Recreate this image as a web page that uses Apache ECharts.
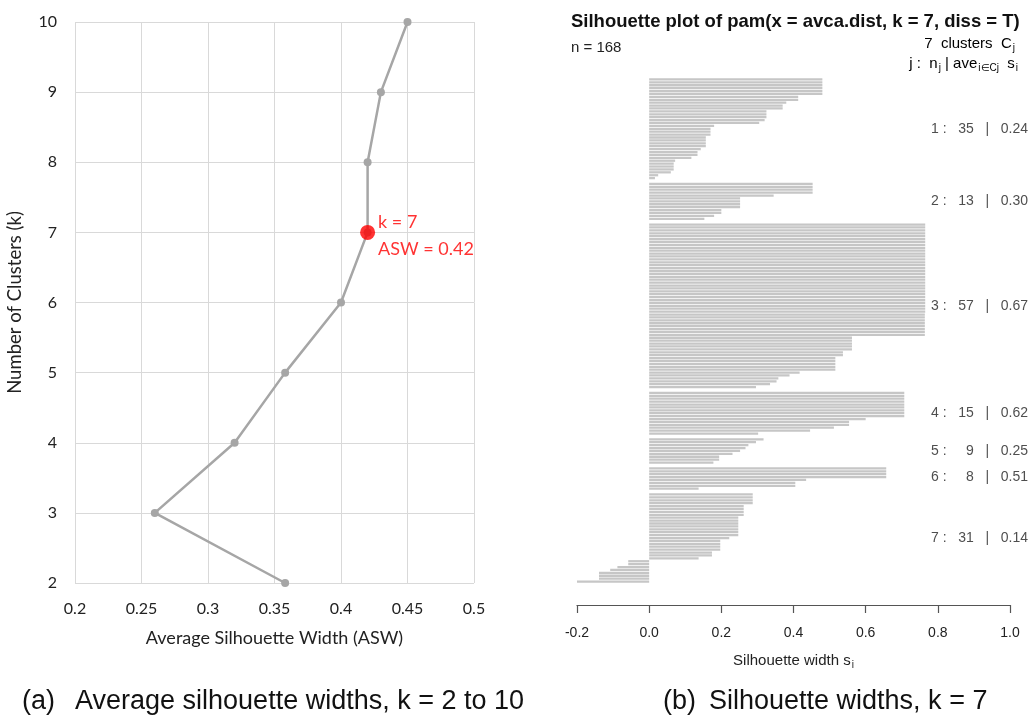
<!DOCTYPE html>
<html>
<head>
<meta charset="utf-8">
<script src="https://cdn.jsdelivr.net/npm/echarts@6/dist/echarts.min.js"></script>
<style>
  html, body { margin: 0; padding: 0; background: #fff; }
  #chart { width: 1030px; height: 723px; }
</style>
</head>
<body>
<div id="chart"></div>
<script>
// (a) ASW for k = 2..10
const kValues = [2, 3, 4, 5, 6, 7, 8, 9, 10]
const aswValues = [0.358, 0.26, 0.32, 0.358, 0.40, 0.42, 0.42, 0.43, 0.45]
const bestK = 7

// (b) silhouette widths per cluster, sorted as in the plot
const sil1 = [0.48, 0.48, 0.48, 0.48, 0.48, 0.48, 0.413, 0.413, 0.38, 0.37, 0.37, 0.325, 0.325, 0.325, 0.32, 0.305,
  0.18, 0.17, 0.17, 0.17, 0.157, 0.157, 0.157, 0.157, 0.143, 0.134, 0.134, 0.117, 0.072, 0.068, 0.068, 0.068, 0.06, 0.025, 0.016]
const sil2 = [0.453, 0.453, 0.453, 0.453, 0.345, 0.252, 0.252, 0.252, 0.252, 0.20, 0.20, 0.18, 0.153]
const sil3 = [0.765, 0.765, 0.765, 0.765, 0.765, 0.765, 0.765, 0.765, 0.765, 0.765,
  0.765, 0.765, 0.765, 0.765, 0.765, 0.765, 0.765, 0.765, 0.765, 0.765,
  0.765, 0.765, 0.765, 0.765, 0.765, 0.765, 0.765, 0.765, 0.765, 0.765,
  0.765, 0.764, 0.764, 0.764, 0.764, 0.764, 0.764, 0.764, 0.764,
  0.562, 0.562, 0.562, 0.562, 0.562, 0.537, 0.537, 0.516, 0.516, 0.516, 0.516, 0.516,
  0.417, 0.389, 0.358, 0.353, 0.335, 0.296]
const sil4 = [0.707, 0.707, 0.707, 0.707, 0.707, 0.707, 0.707, 0.707, 0.707, 0.60, 0.554, 0.554, 0.512, 0.446, 0.302]
const sil5 = [0.317, 0.296, 0.275, 0.267, 0.252, 0.231, 0.194, 0.194, 0.178]
const sil6 = [0.657, 0.657, 0.657, 0.657, 0.435, 0.405, 0.405, 0.137]
const sil7 = [0.287, 0.287, 0.287, 0.287, 0.262, 0.262, 0.262, 0.262, 0.247, 0.247, 0.247, 0.247, 0.247, 0.247, 0.247,
  0.222, 0.197, 0.197, 0.197, 0.197, 0.174, 0.174, 0.137,
  -0.058, -0.058, -0.088, -0.108, -0.139, -0.139, -0.139, -0.216]
const clusterAvg = ['0.24', '0.30', '0.67', '0.62', '0.25', '0.51', '0.14']
const silTicks = ['-0.2', '0.0', '0.2', '0.4', '0.6', '0.8', '1.0']

const clusters = [sil1, sil2, sil3, sil4, sil5, sil6, sil7]

// bars with one empty slot between clusters, plus the label positions
let barData = []
let clusterLabels = []
clusters.forEach((arr, j) => {
  let start = barData.length
  arr.forEach(v => barData.push(v))
  let mid = Math.floor((start + barData.length - 1) / 2)
  let n = arr.length < 10 ? '  ' + arr.length : '' + arr.length
  clusterLabels.push({ value: [1.0, mid], text: (j + 1) + ' :   ' + n + '   |   ' + clusterAvg[j] })
  if (j < clusters.length - 1) barData.push('-')
})
let slots = barData.map((v, i) => i)

const leftFont = 'Lato'
const rightFont = 'Liberation Sans'
const subRich = {
  t: { fontFamily: rightFont, fontSize: 15, color: '#222' },
  sub: { fontFamily: rightFont, fontSize: 10, color: '#222', padding: [9, 0, 0, 1] }
}

let chart = echarts.init(document.getElementById('chart'))
chart.setOption({
  animation: false,
  grid: [
    { left: 75, top: 22, width: 399, height: 561 },
    { left: 577, top: 78, width: 433, height: 505 }
  ],
  xAxis: [
    {
      gridIndex: 0, type: 'value', min: 0.2, max: 0.5, interval: 0.05,
      name: 'Average Silhouette Width (ASW)', nameLocation: 'middle', nameGap: 46,
      nameTextStyle: { fontFamily: leftFont, fontSize: 18, color: '#222' },
      axisLine: { show: false }, axisTick: { show: false },
      axisLabel: { margin: 18, fontFamily: leftFont, fontSize: 16, color: '#222' },
      splitLine: { show: true, lineStyle: { color: '#d9d9d9', width: 1 } }
    },
    {
      gridIndex: 1, type: 'value', min: -0.2, max: 1.0, interval: 0.2, offset: 22,
      name: '{t|Silhouette width s}{sub|i}', nameLocation: 'middle', nameGap: 46,
      nameTextStyle: { rich: subRich },
      axisLine: { show: true, onZero: false, lineStyle: { color: '#555', width: 1.2 } },
      axisTick: { show: true, length: 8, lineStyle: { color: '#555', width: 1.2 } },
      axisLabel: {
        margin: 21, fontFamily: rightFont, fontSize: 14, color: '#222',
        formatter: (v) => silTicks[Math.round((v + 0.2) / 0.2)]
      },
      splitLine: { show: false }
    }
  ],
  yAxis: [
    {
      gridIndex: 0, type: 'value', min: 2, max: 10, interval: 1,
      name: 'Number of Clusters (k)', nameLocation: 'middle', nameGap: 50,
      nameTextStyle: { fontFamily: leftFont, fontSize: 18.5, color: '#222' },
      axisLine: { show: false }, axisTick: { show: false },
      axisLabel: { margin: 18, fontFamily: leftFont, fontSize: 16, color: '#222' },
      splitLine: { show: true, lineStyle: { color: '#d9d9d9', width: 1 } }
    },
    {
      gridIndex: 1, type: 'category', data: slots, inverse: true, show: false
    }
  ],
  graphic: [
    {
      type: 'text', left: 571, top: 12,
      style: { text: 'Silhouette plot of pam(x = avca.dist, k = 7, diss = T)', font: 'bold 18.5px "Liberation Sans"', fill: '#111' }
    },
    {
      type: 'text', left: 571, top: 40,
      style: { text: 'n = 168', font: '15px "Liberation Sans"', fill: '#222' }
    },
    {
      type: 'text', right: 15, top: 36,
      style: { text: '{t|7  clusters  C}{sub|j}', rich: subRich }
    },
    {
      type: 'text', right: 12, top: 56,
      style: { text: '{t|j :  n}{sub|j}{t| | ave}{sub|i\u2208Cj}{t|  s}{sub|i}', rich: subRich }
    },
    {
      type: 'text', left: 22, top: 688,
      style: { text: '(a)', font: '27px "Liberation Sans"', fill: '#111' }
    },
    {
      type: 'text', left: 75, top: 688,
      style: { text: 'Average silhouette widths, k = 2 to 10', font: '27px "Liberation Sans"', fill: '#111' }
    },
    {
      type: 'text', left: 663, top: 688,
      style: { text: '(b)', font: '27px "Liberation Sans"', fill: '#111' }
    },
    {
      type: 'text', left: 709, top: 688,
      style: { text: 'Silhouette widths, k = 7', font: '27px "Liberation Sans"', fill: '#111' }
    }
  ],
  series: [
    {
      type: 'line', xAxisIndex: 0, yAxisIndex: 0, z: 2,
      data: kValues.map((k, i) => [aswValues[i], k]),
      symbol: 'circle', symbolSize: 8,
      lineStyle: { color: '#a6a6a6', width: 2.5 },
      itemStyle: { color: '#a6a6a6' }
    },
    {
      type: 'scatter', xAxisIndex: 0, yAxisIndex: 0, z: 5,
      data: [[aswValues[kValues.indexOf(bestK)], bestK]],
      symbolSize: 15, itemStyle: { color: '#ff0000' },
      label: {
        show: true, position: 'right', distance: 3, offset: [0, 3],
        formatter: (p) => 'k = ' + p.value[1] + '\nASW = ' + p.value[0].toFixed(2),
        fontFamily: leftFont, fontSize: 18, lineHeight: 27, color: '#ff0000'
      }
    },
    {
      type: 'bar', xAxisIndex: 1, yAxisIndex: 1,
      data: barData, barCategoryGap: '22%',
      itemStyle: { color: '#c6c6c6' }
    },
    {
      type: 'scatter', xAxisIndex: 1, yAxisIndex: 1,
      data: clusterLabels, symbolSize: 0,
      label: {
        show: true, position: 'left', distance: 0, offset: [18, 0],
        formatter: (p) => clusterLabels[p.dataIndex].text,
        fontFamily: rightFont, fontSize: 14, color: '#222'
      }
    }
  ]
})
</script>
</body>
</html>
